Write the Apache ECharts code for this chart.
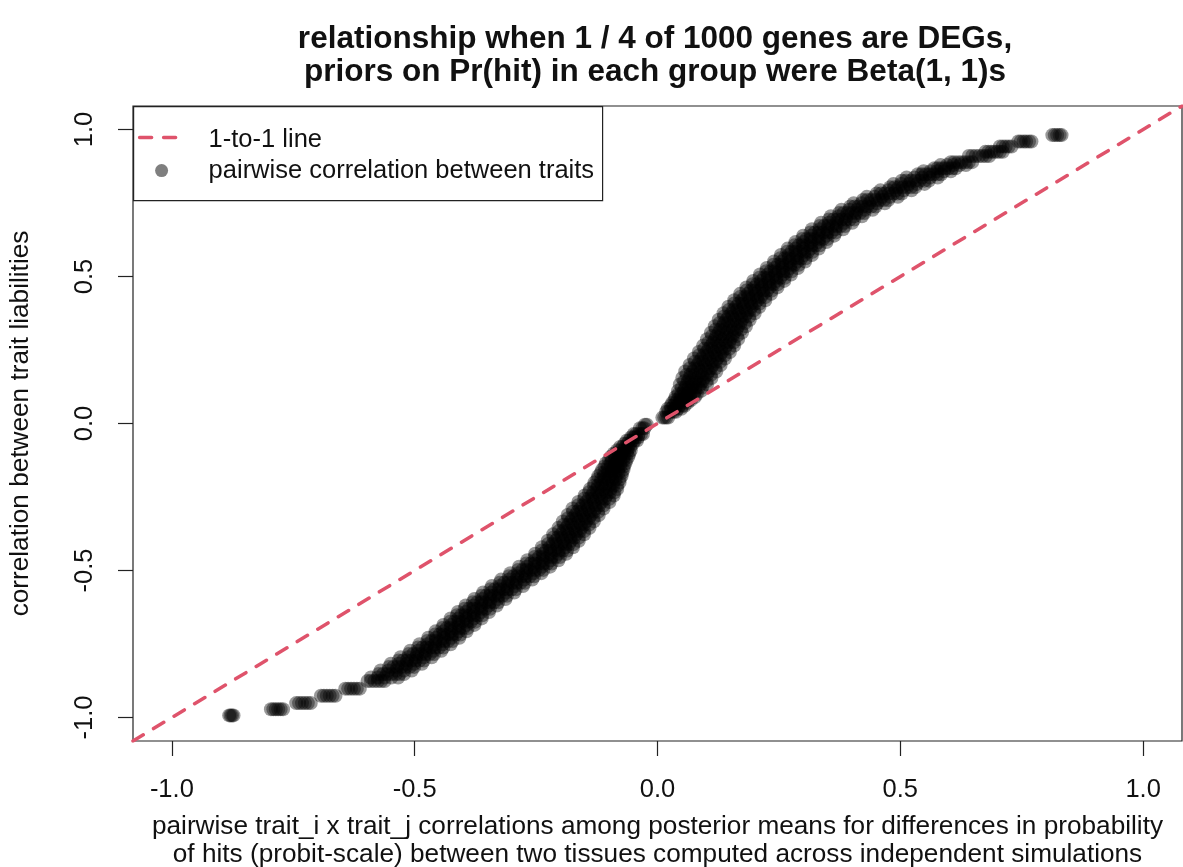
<!DOCTYPE html>
<html>
<head>
<meta charset="utf-8">
<title>relationship when 1 / 4 of 1000 genes are DEGs</title>
<script src="https://cdn.jsdelivr.net/npm/echarts@6/dist/echarts.min.js"></script>
<style>
  html, body { margin: 0; padding: 0; background: #ffffff; }
  #chart { width: 1183px; height: 867px; }
</style>
</head>
<body>
<div id="chart"></div>
<script>
// Axis extent shared by both axes (R-style 4% padding around [-1, 1])
const axisRange = [-1.08, 1.08];
const tickValues = [-1, -0.5, 0, 0.5, 1];
const tickLabels = ['-1.0', '-0.5', '0.0', '0.5', '1.0'];

// 1-to-1 reference line endpoints
const identityLine = [[-1.08, -1.08], [1.08, 1.08]];

// Pairwise correlations: each row is [liability correlation, [posterior-mean correlations]]
const lowerTail = [
  [-0.993, [-0.882, -0.879, -0.876, -0.873]],
  [-0.972, [-0.796, -0.791, -0.786, -0.781, -0.776, -0.771]],
  [-0.951, [-0.744, -0.738, -0.732, -0.726, -0.720, -0.714]],
  [-0.926, [-0.693, -0.687, -0.681, -0.675, -0.669, -0.663]],
  [-0.902, [-0.643, -0.637, -0.631, -0.625, -0.619, -0.613]],
  [-0.876, [-0.597, -0.590, -0.583, -0.576, -0.569, -0.562]],
  [-0.864, [-0.590, -0.576, -0.562, -0.548, -0.534]]
];

const lowerBand = [
  [-0.852, [-0.574, -0.565, -0.557, -0.548, -0.539, -0.531, -0.522]],
  [-0.828, [-0.553, -0.544, -0.536, -0.527, -0.518, -0.510, -0.501]],
  [-0.806, [-0.533, -0.524, -0.516, -0.507, -0.498, -0.490, -0.481]],
  [-0.784, [-0.512, -0.503, -0.495, -0.486, -0.477, -0.469, -0.460]],
  [-0.762, [-0.493, -0.484, -0.476, -0.467, -0.458, -0.450, -0.441]],
  [-0.740, [-0.474, -0.465, -0.457, -0.448, -0.439, -0.431, -0.422]],
  [-0.718, [-0.458, -0.449, -0.441, -0.432, -0.423, -0.415, -0.406]],
  [-0.696, [-0.443, -0.434, -0.426, -0.417, -0.408, -0.400, -0.391]],
  [-0.674, [-0.427, -0.418, -0.410, -0.401, -0.392, -0.384, -0.375]],
  [-0.652, [-0.413, -0.404, -0.396, -0.387, -0.378, -0.370, -0.361]],
  [-0.630, [-0.397, -0.388, -0.380, -0.371, -0.362, -0.354, -0.345]],
  [-0.608, [-0.380, -0.371, -0.363, -0.354, -0.345, -0.337, -0.328]],
  [-0.586, [-0.362, -0.353, -0.345, -0.336, -0.327, -0.319, -0.310]],
  [-0.564, [-0.344, -0.335, -0.327, -0.318, -0.309, -0.301, -0.292]],
  [-0.542, [-0.325, -0.316, -0.308, -0.299, -0.290, -0.282, -0.273]],
  [-0.520, [-0.306, -0.297, -0.289, -0.280, -0.271, -0.263, -0.254]],
  [-0.498, [-0.287, -0.278, -0.270, -0.261, -0.252, -0.244, -0.235]],
  [-0.476, [-0.270, -0.261, -0.253, -0.244, -0.235, -0.227, -0.218]],
  [-0.454, [-0.253, -0.244, -0.236, -0.227, -0.218, -0.210, -0.201]],
  [-0.432, [-0.238, -0.229, -0.221, -0.212, -0.203, -0.195, -0.186]],
  [-0.410, [-0.225, -0.216, -0.208, -0.199, -0.190, -0.182, -0.173]],
  [-0.388, [-0.214, -0.205, -0.197, -0.188, -0.179, -0.171, -0.162]],
  [-0.366, [-0.203, -0.194, -0.186, -0.177, -0.168, -0.160, -0.151]],
  [-0.344, [-0.193, -0.184, -0.176, -0.167, -0.158, -0.150, -0.141]],
  [-0.322, [-0.184, -0.175, -0.167, -0.158, -0.149, -0.141, -0.132]],
  [-0.300, [-0.174, -0.165, -0.157, -0.148, -0.139, -0.131, -0.122]],
  [-0.278, [-0.163, -0.154, -0.146, -0.137, -0.128, -0.120, -0.111]],
  [-0.256, [-0.151, -0.142, -0.134, -0.125, -0.116, -0.108, -0.099]],
  [-0.234, [-0.141, -0.132, -0.124, -0.115, -0.106, -0.098, -0.089]],
  [-0.212, [-0.131, -0.123, -0.115, -0.107, -0.099, -0.091, -0.083]],
  [-0.190, [-0.124, -0.116, -0.109, -0.101, -0.093, -0.086, -0.078]],
  [-0.168, [-0.117, -0.110, -0.102, -0.095, -0.088, -0.080, -0.073]],
  [-0.146, [-0.109, -0.102, -0.096, -0.089, -0.082, -0.076, -0.069]],
  [-0.124, [-0.100, -0.094, -0.088, -0.082, -0.076, -0.070, -0.064]],
  [-0.102, [-0.090, -0.085, -0.079, -0.074, -0.069, -0.063, -0.058]],
  [-0.080, [-0.077, -0.072, -0.066, -0.061, -0.056]],
  [-0.058, [-0.063, -0.058, -0.052, -0.047, -0.042]],
  [-0.036, [-0.049, -0.044, -0.039, -0.034, -0.030]],
  [-0.016, [-0.036, -0.031, -0.027]],
  [-0.004, [-0.026, -0.022]]
];

// Rows that fall between the ones above, slightly wider spread
const lowerBandMid = [
  [-0.840, [-0.570, -0.554, -0.538, -0.522, -0.506]],
  [-0.817, [-0.549, -0.533, -0.517, -0.501, -0.485]],
  [-0.795, [-0.529, -0.513, -0.497, -0.481, -0.465]],
  [-0.773, [-0.509, -0.493, -0.477, -0.461, -0.445]],
  [-0.751, [-0.490, -0.474, -0.458, -0.442, -0.426]],
  [-0.729, [-0.472, -0.456, -0.440, -0.424, -0.408]],
  [-0.707, [-0.457, -0.441, -0.425, -0.409, -0.393]],
  [-0.685, [-0.441, -0.425, -0.409, -0.393, -0.377]],
  [-0.663, [-0.426, -0.410, -0.394, -0.378, -0.362]],
  [-0.641, [-0.411, -0.395, -0.379, -0.363, -0.347]],
  [-0.619, [-0.395, -0.379, -0.363, -0.347, -0.331]],
  [-0.597, [-0.377, -0.361, -0.345, -0.329, -0.313]],
  [-0.575, [-0.359, -0.343, -0.327, -0.311, -0.295]],
  [-0.553, [-0.341, -0.325, -0.309, -0.293, -0.277]],
  [-0.531, [-0.322, -0.306, -0.290, -0.274, -0.258]],
  [-0.509, [-0.303, -0.287, -0.271, -0.255, -0.239]],
  [-0.487, [-0.285, -0.269, -0.253, -0.237, -0.221]],
  [-0.465, [-0.268, -0.252, -0.236, -0.220, -0.204]],
  [-0.443, [-0.252, -0.236, -0.220, -0.204, -0.188]],
  [-0.421, [-0.238, -0.222, -0.206, -0.190, -0.174]],
  [-0.399, [-0.226, -0.210, -0.194, -0.178, -0.162]],
  [-0.377, [-0.215, -0.199, -0.183, -0.167, -0.151]],
  [-0.355, [-0.204, -0.188, -0.172, -0.156, -0.140]],
  [-0.333, [-0.195, -0.179, -0.163, -0.147, -0.131]],
  [-0.311, [-0.185, -0.169, -0.153, -0.137, -0.121]],
  [-0.289, [-0.175, -0.159, -0.143, -0.127, -0.111]],
  [-0.267, [-0.163, -0.147, -0.131, -0.115, -0.099]],
  [-0.245, [-0.150, -0.135, -0.120, -0.105, -0.090]],
  [-0.223, [-0.139, -0.125, -0.111, -0.097, -0.083]],
  [-0.201, [-0.130, -0.117, -0.104, -0.091, -0.078]],
  [-0.179, [-0.122, -0.110, -0.098, -0.086, -0.074]],
  [-0.157, [-0.114, -0.103, -0.092, -0.081, -0.070]],
  [-0.135, [-0.106, -0.096, -0.086, -0.076, -0.066]],
  [-0.113, [-0.096, -0.087, -0.078, -0.069, -0.060]],
  [-0.091, [-0.083, -0.076, -0.069, -0.062, -0.055]],
  [-0.069, [-0.068, -0.062, -0.057, -0.051]],
  [-0.047, [-0.054, -0.049, -0.045, -0.040]]
];

const upperBand = [
  [0.020, [0.010, 0.014, 0.018, 0.022]],
  [0.040, [0.018, 0.023, 0.028, 0.033, 0.038]],
  [0.060, [0.027, 0.033, 0.039, 0.045, 0.051, 0.056]],
  [0.080, [0.035, 0.041, 0.047, 0.052, 0.058, 0.064, 0.069]],
  [0.100, [0.043, 0.049, 0.056, 0.062, 0.068, 0.075, 0.081]],
  [0.122, [0.050, 0.057, 0.064, 0.071, 0.078, 0.085, 0.092]],
  [0.144, [0.055, 0.063, 0.070, 0.078, 0.086, 0.093, 0.101]],
  [0.166, [0.060, 0.068, 0.077, 0.085, 0.093, 0.102, 0.110]],
  [0.188, [0.067, 0.076, 0.084, 0.093, 0.102, 0.110, 0.119]],
  [0.210, [0.077, 0.086, 0.094, 0.103, 0.112, 0.120, 0.129]],
  [0.232, [0.086, 0.095, 0.103, 0.112, 0.121, 0.129, 0.138]],
  [0.254, [0.096, 0.105, 0.113, 0.122, 0.131, 0.139, 0.148]],
  [0.276, [0.105, 0.114, 0.122, 0.131, 0.140, 0.148, 0.157]],
  [0.298, [0.112, 0.121, 0.129, 0.138, 0.147, 0.155, 0.164]],
  [0.320, [0.120, 0.129, 0.137, 0.146, 0.155, 0.163, 0.172]],
  [0.342, [0.128, 0.137, 0.145, 0.154, 0.163, 0.171, 0.180]],
  [0.364, [0.137, 0.146, 0.154, 0.163, 0.172, 0.180, 0.189]],
  [0.386, [0.147, 0.156, 0.164, 0.173, 0.182, 0.190, 0.199]],
  [0.408, [0.158, 0.167, 0.175, 0.184, 0.193, 0.201, 0.210]],
  [0.430, [0.170, 0.179, 0.187, 0.196, 0.205, 0.213, 0.222]],
  [0.452, [0.183, 0.192, 0.200, 0.209, 0.218, 0.226, 0.235]],
  [0.474, [0.196, 0.205, 0.213, 0.222, 0.231, 0.239, 0.248]],
  [0.496, [0.210, 0.219, 0.227, 0.236, 0.245, 0.253, 0.262]],
  [0.518, [0.224, 0.233, 0.241, 0.250, 0.259, 0.267, 0.276]],
  [0.540, [0.239, 0.248, 0.256, 0.265, 0.274, 0.282, 0.291]],
  [0.562, [0.253, 0.262, 0.270, 0.279, 0.288, 0.296, 0.305]],
  [0.584, [0.267, 0.276, 0.284, 0.293, 0.302, 0.310, 0.319]],
  [0.606, [0.282, 0.291, 0.299, 0.308, 0.317, 0.325, 0.334]],
  [0.628, [0.298, 0.307, 0.315, 0.324, 0.333, 0.341, 0.350]],
  [0.650, [0.315, 0.324, 0.332, 0.341, 0.350, 0.358, 0.367]],
  [0.672, [0.334, 0.343, 0.351, 0.360, 0.369, 0.377, 0.386]],
  [0.694, [0.353, 0.362, 0.370, 0.379, 0.388, 0.396, 0.405]],
  [0.716, [0.374, 0.383, 0.391, 0.400, 0.409, 0.417, 0.426]],
  [0.738, [0.397, 0.406, 0.414, 0.423, 0.432, 0.440, 0.449]],
  [0.760, [0.423, 0.432, 0.440, 0.449, 0.458, 0.466, 0.475]],
  [0.782, [0.451, 0.460, 0.468, 0.477, 0.486, 0.494, 0.503]],
  [0.804, [0.479, 0.488, 0.496, 0.505, 0.514, 0.522, 0.531]]
];

// Rows that fall between the ones above, slightly wider spread
const upperBandMid = [
  [0.050, [0.021, 0.028, 0.035, 0.042, 0.049]],
  [0.070, [0.030, 0.038, 0.046, 0.054, 0.062]],
  [0.090, [0.037, 0.047, 0.057, 0.067, 0.077]],
  [0.111, [0.042, 0.054, 0.066, 0.078, 0.090]],
  [0.133, [0.046, 0.060, 0.074, 0.088, 0.102]],
  [0.155, [0.051, 0.066, 0.081, 0.096, 0.111]],
  [0.177, [0.057, 0.073, 0.089, 0.105, 0.121]],
  [0.199, [0.066, 0.082, 0.098, 0.114, 0.130]],
  [0.221, [0.075, 0.091, 0.107, 0.123, 0.139]],
  [0.243, [0.085, 0.101, 0.117, 0.133, 0.149]],
  [0.265, [0.094, 0.110, 0.126, 0.142, 0.158]],
  [0.287, [0.102, 0.118, 0.134, 0.150, 0.166]],
  [0.309, [0.110, 0.126, 0.142, 0.158, 0.174]],
  [0.331, [0.118, 0.134, 0.150, 0.166, 0.182]],
  [0.353, [0.126, 0.142, 0.158, 0.174, 0.190]],
  [0.375, [0.136, 0.152, 0.168, 0.184, 0.200]],
  [0.397, [0.146, 0.162, 0.178, 0.194, 0.210]],
  [0.419, [0.158, 0.174, 0.190, 0.206, 0.222]],
  [0.441, [0.170, 0.186, 0.202, 0.218, 0.234]],
  [0.463, [0.183, 0.199, 0.215, 0.231, 0.247]],
  [0.485, [0.197, 0.213, 0.229, 0.245, 0.261]],
  [0.507, [0.211, 0.227, 0.243, 0.259, 0.275]],
  [0.529, [0.225, 0.241, 0.257, 0.273, 0.289]],
  [0.551, [0.240, 0.256, 0.272, 0.288, 0.304]],
  [0.573, [0.254, 0.270, 0.286, 0.302, 0.318]],
  [0.595, [0.268, 0.284, 0.300, 0.316, 0.332]],
  [0.617, [0.284, 0.300, 0.316, 0.332, 0.348]],
  [0.639, [0.300, 0.316, 0.332, 0.348, 0.364]],
  [0.661, [0.318, 0.334, 0.350, 0.366, 0.382]],
  [0.683, [0.337, 0.353, 0.369, 0.385, 0.401]],
  [0.705, [0.357, 0.373, 0.389, 0.405, 0.421]],
  [0.727, [0.379, 0.395, 0.411, 0.427, 0.443]],
  [0.749, [0.404, 0.420, 0.436, 0.452, 0.468]],
  [0.771, [0.431, 0.447, 0.463, 0.479, 0.495]],
  [0.793, [0.459, 0.475, 0.491, 0.507, 0.523]],
  [0.815, [0.486, 0.502, 0.518, 0.534, 0.550]],
  [0.837, [0.513, 0.529, 0.545, 0.561, 0.577]],
  [0.858, [0.548, 0.562, 0.576, 0.590, 0.604]],
  [0.879, [0.583, 0.596, 0.609, 0.622, 0.635]]
];

const upperTail = [
  [0.826, [0.503, 0.512, 0.522, 0.531, 0.540, 0.550, 0.559]],
  [0.848, [0.536, 0.544, 0.552, 0.560, 0.568, 0.576, 0.584]],
  [0.868, [0.570, 0.577, 0.585, 0.592, 0.599, 0.607, 0.614]],
  [0.889, [0.604, 0.611, 0.619, 0.626, 0.633, 0.641, 0.648]],
  [0.910, [0.641, 0.648, 0.655, 0.662, 0.669, 0.676, 0.683]],
  [0.924, [0.675, 0.681, 0.687, 0.693, 0.699, 0.705, 0.711]],
  [0.942, [0.705, 0.711, 0.717, 0.723, 0.729]],
  [0.959, [0.743, 0.748, 0.754, 0.759, 0.765, 0.770]],
  [0.981, [0.813, 0.818, 0.823, 0.828, 0.832]]
];

const FONT = "'Liberation Sans', Arial, Helvetica, sans-serif";
const TEXT = '#111111';
const PAIR_COLOR = 'rgba(0, 0, 0, 0.5)';
const LINE_COLOR = '#DF536B';

// Flatten rows into [x, y] pairs for the scatter series
const toPoints = rows => rows.flatMap(([y, xs]) => xs.map(x => [x, y]));
const scatterData = [lowerTail, lowerBand, lowerBandMid, upperBand, upperBandMid, upperTail].flatMap(toPoints);

const tickLabel = v => {
  const i = tickValues.findIndex(t => Math.abs(t - v) < 1e-9);
  return i >= 0 ? tickLabels[i] : '';
};

const axisCommon = {
  type: 'value',
  min: axisRange[0],
  max: axisRange[1],
  splitLine: { show: false },
  axisLine: { show: false, onZero: false },
  axisTick: {
    show: true,
    inside: false,
    length: 15,
    customValues: tickValues,
    lineStyle: { color: '#222', width: 1.2 }
  },
  nameLocation: 'middle',
  nameTextStyle: { fontSize: 26.2, color: TEXT, fontFamily: FONT, lineHeight: 28 }
};

const chart = echarts.init(document.getElementById('chart'), null, { renderer: 'canvas' });

chart.setOption({
  animation: false,
  backgroundColor: '#ffffff',
  title: {
    text: 'relationship when 1 / 4 of 1000 genes are DEGs,\npriors on Pr(hit) in each group were Beta(1, 1)s',
    left: 650,
    top: 18,
    textAlign: 'center',
    textStyle: { fontSize: 31.5, fontWeight: 'bold', color: TEXT, fontFamily: FONT, lineHeight: 33 }
  },
  grid: {
    left: 133,
    right: 1,
    top: 106,
    bottom: 126,
    outerBoundsMode: 'none',
    containLabel: false,
    show: true,
    borderColor: '#222',
    borderWidth: 1.2,
    backgroundColor: 'transparent'
  },
  xAxis: Object.assign({}, axisCommon, {
    name: 'pairwise trait_i x trait_j correlations among posterior means for differences in probability\nof hits (probit-scale) between two tissues computed across independent simulations',
    nameGap: 72,
    axisLabel: {
      customValues: tickValues,
      formatter: tickLabel,
      fontSize: 25.5,
      color: TEXT,
      fontFamily: FONT,
      margin: 36
    }
  }),
  yAxis: Object.assign({}, axisCommon, {
    name: 'correlation between trait liabilities',
    nameGap: 98,
    axisLabel: {
      customValues: tickValues,
      formatter: tickLabel,
      rotate: 90,
      fontSize: 25.5,
      color: TEXT,
      fontFamily: FONT,
      margin: 35
    }
  }),
  series: [
    {
      name: 'pairwise correlation between traits',
      type: 'scatter',
      data: scatterData,
      symbol: 'circle',
      symbolSize: 14,
      itemStyle: { color: PAIR_COLOR },
      emphasis: { disabled: true },
      z: 2
    },
    {
      name: '1-to-1 line',
      type: 'line',
      data: identityLine,
      symbol: 'none',
      clip: true,
      lineStyle: { color: LINE_COLOR, width: 3.5, type: [12, 12], cap: 'round' },
      emphasis: { disabled: true },
      z: 3
    }
  ],
  graphic: [
    {
      type: 'group',
      left: 133,
      top: 106,
      z: 10,
      children: [
        {
          type: 'rect',
          shape: { x: 0, y: 0, width: 469, height: 94 },
          style: { fill: '#ffffff', stroke: '#222', lineWidth: 1.2 }
        },
        {
          type: 'line',
          shape: { x1: 6, y1: 31, x2: 43, y2: 31 },
          style: { stroke: LINE_COLOR, lineWidth: 3.5, lineDash: [12, 12], lineCap: 'round' }
        },
        {
          type: 'circle',
          shape: { cx: 28, cy: 64, r: 6.5 },
          style: { fill: PAIR_COLOR }
        },
        {
          type: 'text',
          x: 75,
          y: 33,
          style: { text: '1-to-1 line', fontSize: 25.5, fontFamily: FONT, fill: TEXT, verticalAlign: 'middle' }
        },
        {
          type: 'text',
          x: 75,
          y: 64,
          style: { text: 'pairwise correlation between traits', fontSize: 25.5, fontFamily: FONT, fill: TEXT, verticalAlign: 'middle' }
        }
      ]
    }
  ]
});
</script>
</body>
</html>
